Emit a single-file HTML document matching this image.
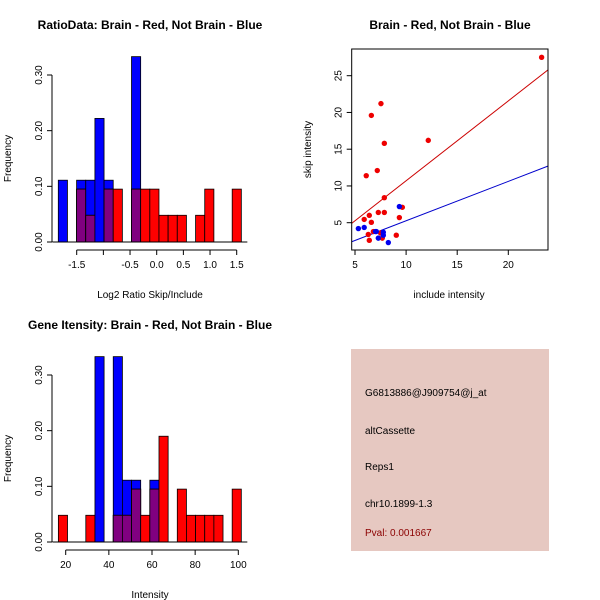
<!DOCTYPE html>
<html><head><meta charset="utf-8"><style>
html,body{margin:0;padding:0;background:#fff}
svg{display:block;font-family:"Liberation Sans",Arial,sans-serif}
</style></head><body>
<svg id="c" width="600" height="600" viewBox="0 0 600 600">
<rect x="0" y="0" width="600" height="600" fill="#fff"/>
<g id="h1"></g>
<g id="sc"></g>
<g id="h2"></g>
<g>
<rect x="351" y="349" width="198" height="202" fill="#e6c8c1"/>
<text x="365" y="396" font-size="10" fill="#000">G6813886@J909754@j_at</text>
<text x="365" y="434" font-size="10" fill="#000">altCassette</text>
<text x="365" y="470" font-size="10" fill="#000">Reps1</text>
<text x="365" y="507" font-size="10" fill="#000">chr10.1899-1.3</text>
<text x="365" y="536" font-size="10" fill="#8b0000">Pval: 0.001667</text>
</g>
</svg>
<script>
// ---- Ratio histogram data ----
const h1Start = -1.845;
const h1Width = 0.1716;
const h1Blue = [0.111,0,0.111,0.111,0.222,0.111,0,0,0.333,0,0,0,0,0,0,0,0,0,0,0];
const h1Red  = [0,0,0.095,0.048,0,0.095,0.095,0,0.095,0.095,0.095,0.048,0.048,0.048,0,0.048,0.095,0,0,0.095];
const h1XTicks = [-1.5,-1.0,-0.5,0.0,0.5,1.0,1.5];
const h1XTickLabels = ["-1.5","","-0.5","0.0","0.5","1.0","1.5"];
const yTicks = [0,0.1,0.2,0.3];
const yTickLabels = ["0.00","0.10","0.20","0.30"];
// ---- Gene intensity histogram data ----
const h2Start = 16.6;
const h2Width = 4.24;
const h2Blue = [0,0,0,0,0.333,0,0.333,0.111,0.111,0,0.111,0,0,0,0,0,0,0,0,0];
const h2Red  = [0.048,0,0,0.048,0,0,0.048,0.048,0.095,0.048,0.095,0.190,0,0.095,0.048,0.048,0.048,0.048,0,0.095];
const h2XTicks = [20,40,60,80,100];
// ---- Scatter data ----
const redX = [23.26,7.54,6.6,12.17,7.87,6.1,7.18,7.87,7.28,7.87,6.4,5.9,6.6,9.34,9.63,6.8,6.3,6.4,7.67,9.04,7.5];
const redY = [27.5,21.2,19.6,16.2,15.8,11.4,12.1,8.4,6.4,6.4,6.0,5.45,5.05,5.7,7.1,3.8,3.4,2.6,2.9,3.3,3.6];
const blueX = [5.33,5.9,7.09,7.0,7.77,7.77,7.28,8.26,9.34];
const blueY = [4.2,4.35,3.8,3.8,3.7,3.3,2.9,2.3,7.2];
const redFit = [-0.17,1.087];
const blueFit = [-0.1,0.536];
const scXTicks = [5,10,15,20];
const scYTicks = [5,10,15,20,25];

const NS="http://www.w3.org/2000/svg";
function mk(parent,tag,attrs,text){const e=document.createElementNS(NS,tag);for(const k in attrs)e.setAttribute(k,attrs[k]);if(text!==undefined)e.textContent=text;parent.appendChild(e);return e;}

function histogram(g, title, xlabel, start, width, blue, red, xt, xtl, x0px, x1px, xv0, xv1, baseY, topY, titleX, titleY){
  const sx=v=>x0px+(v-xv0)*(x1px-x0px)/(xv1-xv0);
  const sy=v=>baseY-(v/0.3)*(baseY-topY);
  const t=mk(g,'text',{x:titleX,y:titleY,'font-size':12,'font-weight':'bold','text-anchor':'middle'},title);
  
  
  for(let i=0;i<blue.length;i++){
    const a=sx(start+i*width), b=sx(start+(i+1)*width);
    const bv=blue[i], rv=red[i];
    if(bv>0){const r=mk(g,'rect',{x:a,y:sy(bv),width:b-a,height:baseY-sy(bv),fill:'#0000ff',stroke:'#000','stroke-width':0.8});
      
      }
    if(rv>0){const r=mk(g,'rect',{x:a,y:sy(rv),width:b-a,height:baseY-sy(rv),fill:'#ff0000',stroke:'#000','stroke-width':0.8});
      
      }
    const m=Math.min(bv,rv);
    if(m>0){const r=mk(g,'rect',{x:a,y:sy(m),width:b-a,height:baseY-sy(m),fill:'#800080',stroke:'#000','stroke-width':0.8});
      
      }
  }
  mk(g,'line',{x1:sx(start)-6,x2:sx(start+blue.length*width)+6,y1:baseY,y2:baseY,stroke:'#000'});
  const ax=52;
  mk(g,'line',{x1:ax,x2:ax,y1:sy(0),y2:sy(0.3),stroke:'#000'});
  yTicks.forEach((v,i)=>{mk(g,'line',{x1:ax-5,x2:ax,y1:sy(v),y2:sy(v),stroke:'#000'});
    const l=mk(g,'text',{x:0,y:0,'font-size':10,'text-anchor':'middle',transform:`translate(${ax-10},${sy(v)}) rotate(-90)`},yTickLabels[i]);
    
    });
  const yl=mk(g,'text',{x:0,y:0,'font-size':10,'text-anchor':'middle',transform:`translate(11,${(sy(0)+sy(0.3))/2}) rotate(-90)`},'Frequency');
  
  
  const ay=baseY+8;
  mk(g,'line',{x1:sx(xt[0]),x2:sx(xt[xt.length-1]),y1:ay,y2:ay,stroke:'#000'});
  xt.forEach((v,i)=>{mk(g,'line',{x1:sx(v),x2:sx(v),y1:ay,y2:ay+5,stroke:'#000'});
    const l=mk(g,'text',{x:sx(v),y:ay+18,'font-size':10,'text-anchor':'middle'},xtl[i]);
    
    });
  const xl=mk(g,'text',{x:titleX,y:baseY+56,'font-size':10,'text-anchor':'middle'},xlabel);
  
  
}
histogram(document.getElementById('h1'),'RatioData: Brain - Red, Not Brain - Blue','Log2 Ratio Skip/Include',h1Start,h1Width,h1Blue,h1Red,h1XTicks,h1XTickLabels,76.7,236.7,-1.5,1.5,242,75,150,29);
histogram(document.getElementById('h2'),'Gene Itensity: Brain - Red, Not Brain - Blue','Intensity',h2Start,h2Width,h2Blue,h2Red,h2XTicks,h2XTicks.map(String),65.7,238.3,20,100,542,375,150,329);

(function(){
  const g=document.getElementById('sc');
  const L=351.7,R=548,T=49,B=250;
  const sx=v=>355+(v-5)*10.22;
  const sy=v=>222.7-(v-5)*7.35;
  const t=mk(g,'text',{x:450,y:29,'font-size':12,'font-weight':'bold','text-anchor':'middle'},'Brain - Red, Not Brain - Blue');
  
  
  const cp=mk(mk(g,'defs',{}),'clipPath',{id:'clip'});
  mk(cp,'rect',{x:L,y:T,width:R-L,height:B-T});
  const fits=[[redFit,'#cc0000','red-fit-line'],[blueFit,'#0000cc','blue-fit-line']];
  fits.forEach(f=>{const xa=0,xb=30;
    const l=mk(g,'line',{x1:sx(xa),y1:sy(f[0][0]+f[0][1]*xa),x2:sx(xb),y2:sy(f[0][0]+f[0][1]*xb),stroke:f[1],'stroke-width':1,'clip-path':'url(#clip)'});
    
    });
  redX.forEach((x,i)=>{const c=mk(g,'circle',{cx:sx(x),cy:sy(redY[i]),r:2.7,fill:'#ee0000'});
    
    });
  blueX.forEach((x,i)=>{const c=mk(g,'circle',{cx:sx(x),cy:sy(blueY[i]),r:2.7,fill:'#0000ee'});
    
    });
  mk(g,'rect',{x:L,y:T,width:R-L,height:B-T,fill:'none',stroke:'#000'});
  scXTicks.forEach(v=>{mk(g,'line',{x1:sx(v),x2:sx(v),y1:B,y2:B+5,stroke:'#000'});
    const l=mk(g,'text',{x:sx(v),y:B+18,'font-size':10,'text-anchor':'middle'},String(v));
    
    });
  scYTicks.forEach(v=>{mk(g,'line',{x1:L-5,x2:L,y1:sy(v),y2:sy(v),stroke:'#000'});
    const l=mk(g,'text',{x:0,y:0,'font-size':10,'text-anchor':'middle',transform:`translate(${L-10},${sy(v)}) rotate(-90)`},String(v));
    
    });
  const xl=mk(g,'text',{x:449,y:298,'font-size':10,'text-anchor':'middle'},'include intensity');
  
  
  const yl=mk(g,'text',{x:0,y:0,'font-size':10,'text-anchor':'middle',transform:`translate(311,${(T+B)/2}) rotate(-90)`},'skip intensity');
  
  
})();
</script>
</body></html>
